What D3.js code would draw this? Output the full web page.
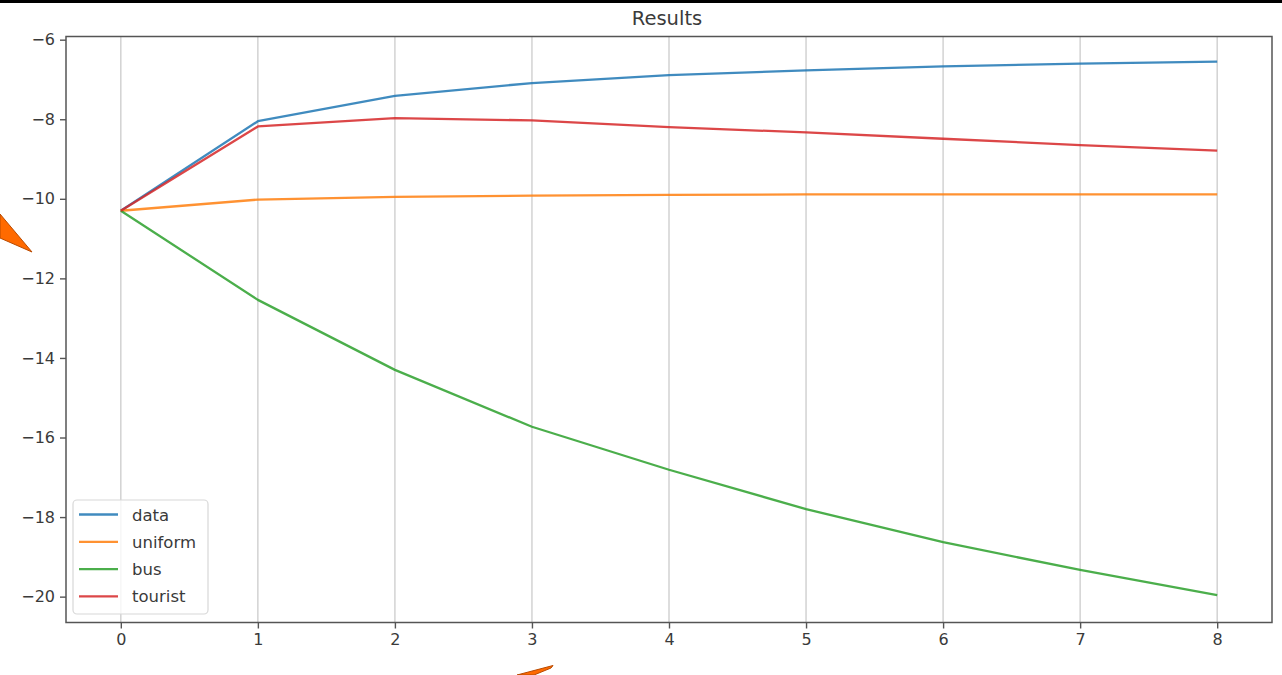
<!DOCTYPE html>
<html>
<head>
<meta charset="utf-8">
<script src="https://cdn.jsdelivr.net/npm/d3@7"></script>
<style>
  html, body { margin: 0; padding: 0; background: #fff; }
  svg { display: block; }
  text { font-family: "DejaVu Sans", sans-serif; }
</style>
</head>
<body>
<svg id="chart" width="1282" height="675"></svg>
<script>
// ---- data ----
const steps = [0, 1, 2, 3, 4, 5, 6, 7, 8];
const seriesNames = ["data", "uniform", "bus", "tourist"];
const dataValues    = [-10.3, -8.05, -7.41, -7.09, -6.89, -6.77, -6.67, -6.60, -6.55];
const uniformValues = [-10.3, -10.02, -9.95, -9.92, -9.90, -9.89, -9.89, -9.89, -9.89];
const busValues     = [-10.3, -12.54, -14.30, -15.73, -16.81, -17.80, -18.63, -19.33, -19.96];
const touristValues = [-10.3, -8.18, -7.97, -8.03, -8.20, -8.33, -8.49, -8.65, -8.79];
const xTicks = [0, 1, 2, 3, 4, 5, 6, 7, 8];
const yTicks = [-6, -8, -10, -12, -14, -16, -18, -20];
const titleText = "Results";

const seriesValues = [dataValues, uniformValues, busValues, touristValues];
const colors = ["#1f77b4", "#ff7f0e", "#2ca02c", "#d62728"];

// ---- layout ----
const svg = d3.select("#chart");
const pLeft = 66, pRight = 1272, pTop = 36.5, pBottom = 622.5;

const x = d3.scaleLinear().domain([-0.4, 8.4]).range([pLeft, pRight]);
const y = d3.scaleLinear().domain([-20.65, -5.92]).range([pBottom, pTop]);

svg.append("rect").attr("width", 1282).attr("height", 675).attr("fill", "#fff");

// vertical grid
svg.append("g").selectAll("line").data(xTicks).join("line")
  .attr("x1", d => x(d)).attr("x2", d => x(d))
  .attr("y1", pTop).attr("y2", pBottom)
  .attr("stroke", "#cfcfcf").attr("stroke-width", 1.4);

// lines
const line = d3.line().x((d, i) => x(steps[i])).y(d => y(d));
svg.append("g").selectAll("path").data(seriesValues).join("path")
  .attr("d", d => line(d))
  .attr("fill", "none")
  .attr("stroke", (d, i) => colors[i])
  .attr("stroke-opacity", 0.85)
  .attr("stroke-width", 2.3)
  .attr("stroke-linejoin", "round")
  .attr("stroke-linecap", "butt");

// axes
const xAxis = d3.axisBottom(x).tickValues(xTicks).tickFormat(d3.format("d")).tickSizeOuter(0).tickSize(6).tickPadding(5);
const yAxis = d3.axisLeft(y).tickValues(yTicks).tickFormat(d => d < 0 ? "\u2212" + Math.abs(d) : d).tickSizeOuter(0).tickSize(6).tickPadding(5);

const gx = svg.append("g").attr("transform", `translate(0,${pBottom})`).call(xAxis);
const gy = svg.append("g").attr("transform", `translate(${pLeft},0)`).call(yAxis);
[gx, gy].forEach(g => {
  g.select(".domain").remove();
  g.selectAll(".tick line").attr("stroke", "#555").attr("stroke-width", 1.4);
  g.selectAll(".tick text").attr("fill", "#3a3a3a").style("font-size", "16px").style("font-family", "DejaVu Sans, sans-serif");
});

// spines
svg.append("rect")
  .attr("x", pLeft).attr("y", pTop)
  .attr("width", pRight - pLeft).attr("height", pBottom - pTop)
  .attr("fill", "none").attr("stroke", "#555").attr("stroke-width", 1.5);

// title
svg.append("text")
  .attr("x", (pLeft + pRight) / 2 - 2).attr("y", 25)
  .attr("text-anchor", "middle")
  .attr("fill", "#3a3a3a")
  .style("font-size", "19.5px")
  .text(titleText);

// legend
const lg = svg.append("g");
lg.append("rect")
  .attr("x", 73).attr("y", 500).attr("width", 135).attr("height", 114)
  .attr("rx", 4).attr("fill", "#fff").attr("fill-opacity", 0.8)
  .attr("stroke", "#d8d8d8").attr("stroke-width", 1.2);
const items = lg.selectAll("g.item").data(seriesNames).join("g")
  .attr("class", "item")
  .attr("transform", (d, i) => `translate(0,${514.5 + i * 27.3})`);
items.append("line")
  .attr("x1", 79).attr("x2", 118).attr("y1", 0).attr("y2", 0)
  .attr("stroke", (d, i) => colors[i]).attr("stroke-opacity", 0.85).attr("stroke-width", 2.3);
items.append("text")
  .attr("x", 132).attr("y", 6)
  .attr("fill", "#3a3a3a")
  .style("font-size", "16.5px")
  .text(d => d);

// top black bar
svg.append("rect").attr("x", 0).attr("y", 0).attr("width", 1282).attr("height", 3).attr("fill", "#000");

// orange annotation arrows
svg.append("polygon")
  .attr("points", "0,214 0,238 32,252")
  .attr("fill", "#ff6a00").attr("stroke", "#b84a00").attr("stroke-width", 1);
svg.append("polygon")
  .attr("points", "517,675 553,665.5 551,668 534,675")
  .attr("fill", "#ff6a00").attr("stroke", "#b84a00").attr("stroke-width", 1);
</script>
</body>
</html>
